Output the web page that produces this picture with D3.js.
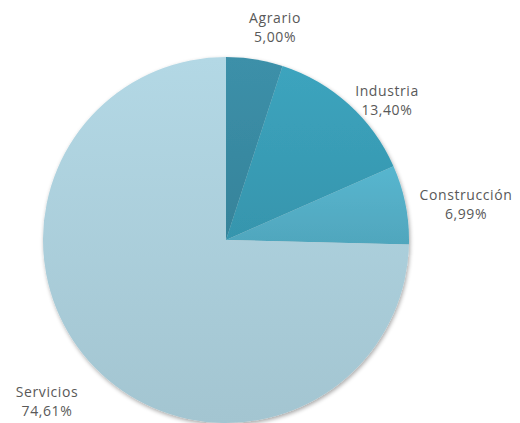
<!DOCTYPE html>
<html><head><meta charset="utf-8">
<script src="https://cdn.jsdelivr.net/npm/d3@7"></script>
<style>html,body{margin:0;padding:0;background:#fff;}svg{display:block;}</style>
</head><body>
<svg id="c" width="520" height="423"></svg>
<script>
const categories = ["Agrario", "Industria", "Construcción", "Servicios"];
const values = [5.00, 13.40, 6.99, 74.61];
const labels = ["5,00%", "13,40%", "6,99%", "74,61%"];
const colors = ["#3a8ca4", "#3a9fb9", "#55b1c9", "#aed2df"];
const labelPos = [[275, 18], [387, 91], [466, 195], [47, 392]];

const svg = d3.select("#c");
const cx = 226, cy = 240, r = 183;
const defs = svg.append("defs");
const f = defs.append("filter").attr("id","sh").attr("x","-10%").attr("y","-10%").attr("width","120%").attr("height","120%");
f.append("feGaussianBlur").attr("in","SourceAlpha").attr("stdDeviation",2);
f.append("feOffset").attr("dx",1).attr("dy",2).attr("result","b");
f.append("feComponentTransfer").append("feFuncA").attr("type","linear").attr("slope",0.35);
const m = f.append("feMerge"); m.append("feMergeNode"); m.append("feMergeNode").attr("in","SourceGraphic");

colors.forEach((c,i)=>{
  const g = defs.append("linearGradient").attr("id","g"+i).attr("x1",0).attr("y1",0).attr("x2",0).attr("y2",1);
  g.append("stop").attr("offset","0%").attr("stop-color", d3.color(c).brighter(0.08));
  g.append("stop").attr("offset","100%").attr("stop-color", d3.color(c).darker(0.18));
});

const pie = d3.pie().sort(null).value(d=>d);
const arc = d3.arc().innerRadius(0).outerRadius(r);
const g = svg.append("g").attr("transform",`translate(${cx},${cy})`).attr("filter","url(#sh)");
g.selectAll("path").data(pie(values)).join("path")
  .attr("d", arc).attr("fill",(d,i)=>`url(#g${i})`);

const t = svg.append("g").attr("font-family","'Open Sans', sans-serif").attr("font-size",14).attr("letter-spacing","0.6px").attr("fill","#595959").attr("text-anchor","middle");
categories.forEach((c,i)=>{
  t.append("text").attr("x",labelPos[i][0]).attr("y",labelPos[i][1]+5).text(c);
  t.append("text").attr("x",labelPos[i][0]).attr("y",labelPos[i][1]+24).text(labels[i]);
});
</script>
</body></html>
